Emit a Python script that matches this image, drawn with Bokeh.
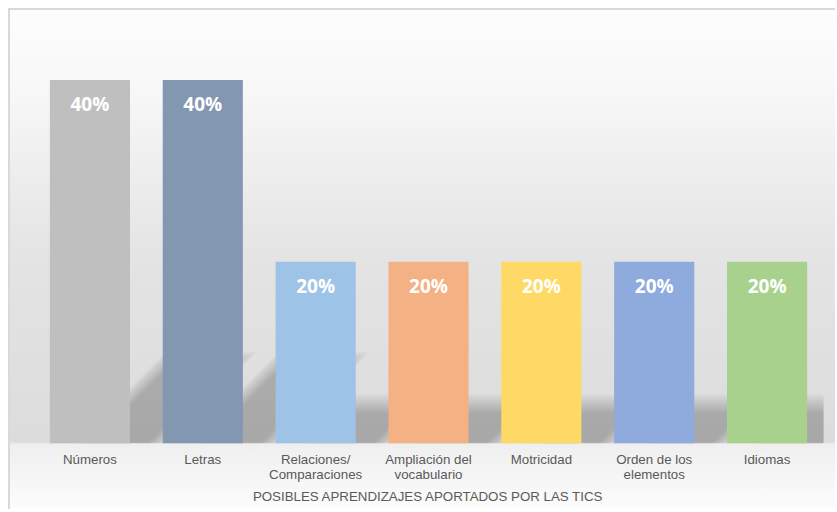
from bokeh.plotting import figure
from bokeh.models import Range1d, FixedTicker, ColumnDataSource
from bokeh.core.properties import value
from bokeh.embed import file_html
from bokeh.resources import INLINE

# ---- data ----
categories = ["Números", "Letras", "Relaciones/\nComparaciones", "Ampliación del\nvocabulario",
              "Motricidad", "Orden de los\nelementos", "Idiomas"]
values = [40, 40, 20, 20, 20, 20, 20]
value_labels = ["40%", "40%", "20%", "20%", "20%", "20%", "20%"]
colors = ["#BFBFBF", "#8497B0", "#9DC3E6", "#F4B183", "#FFD966", "#8FAADC", "#A9D18E"]
axis_title = "POSIBLES APRENDIZAJES APORTADOS POR LAS TICS"

idx = list(range(len(categories)))
FRAME_W, FRAME_H = 790, 409
Y_MAX = 45
BAR_W = 0.71

p = figure(output_backend="svg", toolbar_location=None,
           frame_width=FRAME_W, frame_height=FRAME_H,
           x_range=Range1d(-0.5, len(categories) - 0.5), y_range=Range1d(0, Y_MAX),
           min_border_left=23, min_border_right=12, min_border_top=24, min_border_bottom=66)
p.background_fill_alpha = 0
p.border_fill_alpha = 0
p.outline_line_color = None
p.styles = {
    "margin-left": "8px",
    "margin-top": "8px",
    "background": "linear-gradient(to bottom, #fdfdfd 0%, #f8f8f8 15%, #e4e4e4 49%, "
                  "#dcdcdc 86.5%, #efefef 87.1%, #fcfcfc 100%)",
    "border-left": "2px solid #d9d9d9",
    "border-top": "2px solid #d9d9d9",
}

# ---- perspective shadows (derived from bar geometry) ----
px_x = FRAME_W / len(categories)
px_y = FRAME_H / Y_MAX
K = 0.236          # shadow height ratio
SHIFT = 30 / px_x  # base shift to the right (data units)
for inset in range(-6, 14, 2):
    xs, ys = [], []
    for i, v in zip(idx, values):
        sh = K * v - inset / px_y
        if sh <= 0:
            continue
        skew = sh * px_y / px_x
        x0 = i - BAR_W / 2 + SHIFT + inset / px_x
        x1 = i + BAR_W / 2 + SHIFT - inset / px_x
        xs.append([x0, x1, x1 + skew, x0 + skew])
        ys.append([0, 0, sh, sh])
    p.patches(xs, ys, fill_color="black", fill_alpha=0.022, line_color=None)

# ---- bars ----
src = ColumnDataSource(dict(x=idx, top=values, color=colors, lab=value_labels))
p.vbar(x="x", top="top", width=BAR_W, bottom=0, fill_color="color", line_color=None, source=src)

p.text(x="x", y="top", text="lab", source=src, y_offset=24,
       text_align="center", text_baseline="alphabetic",
       text_color="white", text_font=value("Open Sans"), text_font_style="bold",
       text_font_size="19px")

# ---- axes ----
p.yaxis.visible = False
p.grid.visible = False
ax = p.xaxis[0]
ax.ticker = FixedTicker(ticks=idx)
ax.major_label_overrides = {i: c for i, c in zip(idx, categories)}
ax.axis_line_color = None
ax.major_tick_line_color = None
ax.minor_tick_line_color = None
ax.major_tick_out = 0
ax.major_tick_in = 0
ax.major_label_standoff = 8
ax.major_label_text_font = "Liberation Sans"
ax.major_label_text_font_size = "13.3px"
ax.major_label_text_line_height = 1.0
ax.major_label_text_color = "#595959"
ax.axis_label = axis_title
ax.axis_label_standoff = 4
ax.axis_label_text_font = "Liberation Sans"
ax.axis_label_text_font_size = "13.3px"
ax.axis_label_text_font_style = "normal"
ax.axis_label_text_color = "#595959"

open("out.html", "w").write(file_html(p, INLINE))
